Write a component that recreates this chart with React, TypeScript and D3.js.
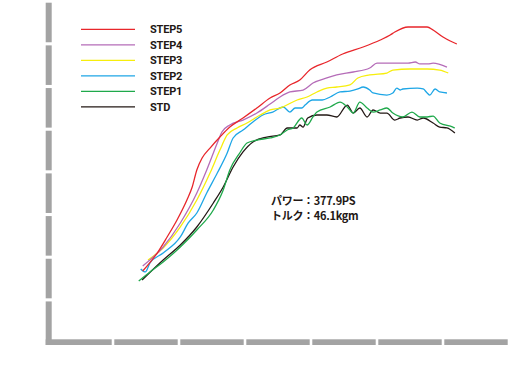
import React from "react";
import * as d3 from "d3";

const W = 530;
const H = 379;

const seriesNames = ["STEP5", "STEP4", "STEP3", "STEP2", "STEP1", "STD"];
const seriesColors = ["#e8262b", "#b56cb8", "#f7ee0c", "#1ea6e6", "#1fa94b", "#231815"];

const step5Rpm = [1450,1670,1820,1970,2120,2200,2270,2350,2470,2620,2770,2970,3180,3380,3530,3680,3830,3980,4240,4480,4790,5050,5200,5270,5470,5760,5850,6000,6110,6210];
const step5Ps = [83.5,104.6,123.4,143.3,166.7,181.9,201.9,215.9,227.6,240.5,252.2,262.8,274.5,286.2,292.1,301.5,307.3,319.0,328.4,337.8,346.0,354.2,360.0,363.5,369.4,369.4,365.9,357.7,353.0,349.5];

const step4Rpm = [1450,1760,2020,2270,2420,2580,2650,2770,2970,3180,3380,3530,3680,3880,4030,4240,4390,4640,4890,5000,5240,5470,5580,5650,5770,5850,6060];
const step4Ps = [89.4,111.7,139.8,174.9,201.9,233.5,246.4,254.6,260.4,268.6,279.2,287.4,293.3,295.6,303.8,309.7,313.2,316.7,321.4,327.2,327.2,327.2,328.4,326.1,326.1,327.2,322.5];

const step3Rpm = [1530,1760,2020,2270,2470,2620,2730,2880,3030,3230,3380,3530,3790,3940,4090,4240,4390,4590,4710,4890,5150,5240,5500,5760,5950,6080];
const step3Ps = [96.4,110.5,135.1,166.7,198.3,225.3,242.9,251.1,256.9,266.3,272.2,274.5,283.9,287.4,293.3,297.9,299.1,301.5,309.7,313.2,315.5,319.0,320.2,320.2,319.0,315.5];

const step2Rpm = [1420,1490,1560,1760,2020,2140,2270,2420,2580,2730,2820,2970,3120,3270,3420,3580,3680,3760,3860,3910,4020,4170,4290,4440,4590,4710,4790,4890,4940,5150,5240,5300,5350,5390,5610,5700,5760,5800,5880,5950,6060];
const step2Ps = [85.9,82.4,92.9,104.6,123.4,139.8,151.5,174.9,198.3,221.8,239.4,248.7,258.1,266.3,269.8,275.7,269.8,274.5,274.5,278.0,283.9,283.9,287.4,293.3,294.4,296.8,299.1,295.6,292.1,289.7,292.1,297.9,295.6,296.8,297.9,296.8,292.1,289.7,296.8,293.3,292.1];

const step1Rpm = [1390,1560,1760,2020,2270,2520,2670,2770,2920,3030,3180,3380,3530,3640,3730,3860,3940,4030,4090,4290,4440,4550,4640,4740,4850,4940,5050,5150,5240,5390,5530,5650,5760,5850,5950,6150,6180];
const step1Ps = [71.8,82.4,94.1,111.7,131.6,155.0,178.4,201.9,221.8,233.5,237.0,239.4,242.9,248.7,251.1,262.8,254.6,264.0,269.8,275.7,281.5,275.7,268.6,281.5,274.5,269.8,272.2,274.5,268.6,264.0,269.8,264.0,264.0,265.1,256.9,252.2,251.1];

const stdRpm = [1440,1760,2020,2270,2520,2670,2820,2970,3120,3330,3530,3640,3790,3830,3880,3950,4090,4240,4390,4550,4640,4740,4850,4940,5050,5150,5270,5350,5470,5610,5700,5850,5950,6060,6180];
const stdPs = [73.0,96.4,114.0,135.1,163.2,181.9,205.4,223.0,234.7,240.5,242.9,251.1,251.1,254.6,252.2,262.8,266.3,266.3,264.0,278.0,268.6,274.5,264.0,272.2,268.6,268.6,260.4,262.8,264.0,260.4,262.8,256.9,252.2,251.1,245.2];

const seriesRpm = [step5Rpm, step4Rpm, step3Rpm, step2Rpm, step1Rpm, stdRpm];
const seriesPs = [step5Ps, step4Ps, step3Ps, step2Ps, step1Ps, stdPs];

const xTicks = [0, 1000, 2000, 3000, 4000, 5000, 6000, 7000];
const yTicks = [0, 50, 100, 150, 200, 250, 300, 350, 400];

const annotationLines = ["パワー：377.9PS", "トルク：46.1kgm"];

export default function App() {
  const x = d3.scaleLinear().domain([0, 7000]).range([47, 509]);
  const y = d3.scaleLinear().domain([0, 400]).range([342.3, 0.9]);
  const axisColor = "#a3a3a3";
  const gap = 1.3;
  const barLeft = 45.7;
  const barW = 6;
  const hTop = 339.3;
  const hBottom = 345;

  const line = d3
    .line<[number, number]>()
    .x((d) => x(d[0]))
    .y((d) => y(d[1]))
    .curve(d3.curveMonotoneX);

  const vSegs = yTicks.slice(0, -1).map((t, i) => {
    const top = y(yTicks[i + 1]) + gap + 0.5;
    const bottom = i === 0 ? hBottom : y(t) - gap;
    return { top, bottom };
  });
  const hSegs = xTicks.slice(0, -1).map((t, i) => {
    const left = i === 0 ? barLeft : x(t) + gap;
    const right = x(xTicks[i + 1]) - gap;
    return { left, right };
  });

  const font = "Roboto, 'Noto Sans CJK JP', sans-serif";

  return (
    <svg
      width={W}
      height={H}
      style={{ position: "absolute", left: 0, top: 0, background: "#fff" }}
    >
      {vSegs.map((s, i) => (
        <rect key={"v" + i} x={barLeft} y={s.top} width={barW} height={s.bottom - s.top} fill={axisColor} />
      ))}
      {hSegs.map((s, i) => (
        <rect key={"h" + i} x={s.left} y={hTop} width={s.right - s.left} height={hBottom - hTop} fill={axisColor} />
      ))}

      {seriesNames.map((name, i) => {
        const pts = seriesRpm[i].map((r, j) => [r, seriesPs[i][j]] as [number, number]);
        return (
          <path
            key={name}
            d={line(pts) || ""}
            fill="none"
            stroke={seriesColors[i]}
            strokeWidth={1.3}
            strokeLinejoin="round"
          />
        );
      }).reverse()}

      {seriesNames.map((name, i) => {
        const ly = 29.3 + i * 15.5;
        return (
          <g key={"lg" + name}>
            <line x1={81} x2={135} y1={ly} y2={ly} stroke={seriesColors[i]} strokeWidth={1.2} />
            <text x={150} y={ly + 4} fontFamily={font} fontSize={11} fontWeight={700} letterSpacing={-0.2} fill="#231815">
              {name}
            </text>
          </g>
        );
      })}

      {annotationLines.map((t, i) => (
        <text
          key={"an" + i}
          x={271}
          y={205 + i * 15}
          fontFamily="'Noto Sans CJK JP', sans-serif"
          fontSize={11}
          fontWeight={700}
          letterSpacing={-0.3}
          fill="#231815"
        >
          {t}
        </text>
      ))}
    </svg>
  );
}
